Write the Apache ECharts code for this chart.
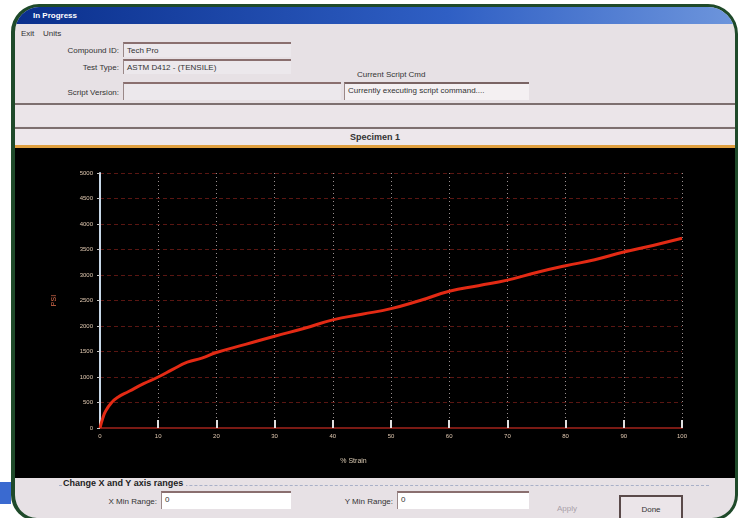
<!DOCTYPE html>
<html>
<head>
<meta charset="utf-8">
<script src="https://cdn.jsdelivr.net/npm/echarts@6/dist/echarts.min.js"></script>
<style>
  html,body{margin:0;padding:0;background:#fff;width:741px;height:518px;overflow:hidden;font-family:"Liberation Sans","DejaVu Sans",sans-serif;}
  .abs{position:absolute;}
  #win{left:11px;top:4px;width:720px;height:511px;border:3px solid #1f4a2a;border-left-width:4px;border-radius:28px 30px 26px 26px;background:#e7e1e5;overflow:hidden;}
  #title{left:0;top:0;width:100%;height:17px;background:linear-gradient(to right,#0a2f8c,#2f5fc4 60%,#6d95dc);color:#fff;font-size:8px;font-weight:bold;line-height:17px;padding-left:18px;box-sizing:border-box;}
  .lbl{font-size:8px;color:#333;white-space:nowrap;}
  .box{background:#ece8ec;border-top:2px solid #8a6f6f;border-left:1px solid #9a8888;font-size:8px;color:#333;box-sizing:border-box;padding-left:3px;line-height:13px;white-space:nowrap;overflow:hidden;}
  .wbox{background:#fff;border-top:2px solid #8a6f6f;border-left:1px solid #9a8888;font-size:8px;color:#333;box-sizing:border-box;padding-left:3px;line-height:14px;}
  #chart{left:3px;top:141px;width:716px;height:330px;}
</style>
</head>
<body>
<div id="win" class="abs">
  <div id="title" class="abs">In Progress</div>
  <div class="abs lbl" style="left:6px;top:22px;">Exit</div>
  <div class="abs lbl" style="left:28px;top:22px;">Units</div>
  <div class="abs lbl" style="left:40px;top:39px;width:64px;text-align:right;">Compound ID:</div>
  <div class="abs box" style="left:108px;top:35px;width:168px;height:15px;">Tech Pro</div>
  <div class="abs lbl" style="left:40px;top:56px;width:64px;text-align:right;">Test Type:</div>
  <div class="abs box" style="left:108px;top:52px;width:168px;height:15px;">ASTM D412 - (TENSILE)</div>
  <div class="abs lbl" style="left:20px;top:81px;width:84px;text-align:right;">Script Version:</div>
  <div class="abs box" style="left:108px;top:75px;width:218px;height:18px;"></div>
  <div class="abs lbl" style="left:342px;top:63px;">Current Script Cmd</div>
  <div class="abs box" style="left:329px;top:75px;width:185px;height:18px;border-top:2px solid #7a6464;background:#f4f0f2;">Currently executing script command....</div>
  <div class="abs" style="left:0;top:96px;width:100%;height:2px;background:#7d6f6f;"></div>
  <div class="abs" style="left:0;top:98px;width:100%;height:21px;background:#ebe5e9;"></div>
  <div class="abs" style="left:0;top:120px;width:100%;height:2px;background:#7d6f6f;"></div>
  <div class="abs" style="left:0;top:122px;width:100%;height:16px;background:#ede7eb;font-size:9px;font-weight:bold;color:#333;text-align:center;line-height:16px;">Specimen 1</div>
  <div class="abs" style="left:0;top:138px;width:100%;height:3px;background:#e0a040;"></div>
  <div class="abs" style="left:0;top:141px;width:100%;height:330px;background:#000;"></div>
  <div id="chart" class="abs"></div>
  <div class="abs" style="left:44px;top:478px;width:650px;height:0;border-top:1px dashed #a8b0c8;"></div>
  <div class="abs lbl" style="left:48px;top:471px;font-size:9px;font-weight:bold;color:#222;background:#e7e1e5;padding-right:3px;">Change X and Y axis ranges</div>
  <div class="abs lbl" style="left:82px;top:490px;width:60px;text-align:right;">X Min Range:</div>
  <div class="abs wbox" style="left:146px;top:484px;width:130px;height:18px;">0</div>
  <div class="abs lbl" style="left:318px;top:490px;width:60px;text-align:right;">Y Min Range:</div>
  <div class="abs wbox" style="left:382px;top:484px;width:132px;height:18px;">0</div>
  <div class="abs lbl" style="left:542px;top:497px;color:#a8a0a8;">Apply</div>
  <div class="abs" style="left:604px;top:488px;width:64px;height:26px;border:2px solid #5a4a4a;box-sizing:border-box;background:#ebe5e9;font-size:8px;text-align:center;line-height:26px;color:#333;">Done</div>
</div>
<div class="abs" style="left:0;top:482px;width:11px;height:22px;background:#3a6ad0;"></div>
<script>
var strainPct = [0, 0.5, 1, 2, 3, 5, 7.5, 10, 12.5, 15, 17.5, 20, 25, 30, 35, 40, 45, 50, 55, 60, 65, 70, 75, 80, 85, 90, 95, 100];
var psiValues = [0, 200, 340, 500, 600, 720, 870, 1000, 1150, 1290, 1370, 1480, 1640, 1800, 1950, 2120, 2230, 2340, 2500, 2680, 2790, 2900, 3050, 3180, 3300, 3450, 3580, 3720];
var xTicks = [0, 10, 20, 30, 40, 50, 60, 70, 80, 90, 100];
var yTicks = [0, 500, 1000, 1500, 2000, 2500, 3000, 3500, 4000, 4500, 5000];

var points = strainPct.map(function (s, i) { return [s, psiValues[i]]; });
var chart = echarts.init(document.getElementById('chart'));
chart.setOption({
  backgroundColor: '#000',
  animation: false,
  grid: { left: 82, right: 52, top: 25, bottom: 50 },
  xAxis: {
    type: 'value', min: xTicks[0], max: xTicks[xTicks.length - 1], interval: 10,
    name: '% Strain', nameLocation: 'middle', nameGap: 30,
    nameTextStyle: { color: '#d8c8b0', fontSize: 7, padding: [0, 75, 0, 0] },
    axisLine: { lineStyle: { color: '#7a1a14', width: 2 } },
    axisTick: { show: true, inside: true, length: 8, lineStyle: { color: '#e0e0e0', width: 2 } },
    axisLabel: { color: '#e0c8b0', fontSize: 6, margin: 5, formatter: function (v) { return String(v); } },
    splitLine: { show: true, lineStyle: { color: '#9a9090', type: [1, 3], width: 1 } }
  },
  yAxis: {
    type: 'value', min: yTicks[0], max: yTicks[yTicks.length - 1], interval: 500,
    name: 'PSI', nameLocation: 'middle', nameGap: 42, nameRotate: 90,
    nameTextStyle: { color: '#e07050', fontSize: 7 },
    axisLine: { show: true, lineStyle: { color: '#c8d8e8', width: 2 } },
    axisTick: { show: true, length: 3, lineStyle: { color: '#c8c8c8' } },
    axisLabel: { color: '#e0c8b0', fontSize: 6, margin: 7, formatter: function (v) { return String(v); } },
    splitLine: { show: true, lineStyle: { color: '#5a1612', type: [4, 3], width: 1 } }
  },
  series: [{
    type: 'line', data: points, showSymbol: false, smooth: true,
    lineStyle: { color: '#e32a14', width: 3 }
  }]
});
</script>
</body>
</html>
